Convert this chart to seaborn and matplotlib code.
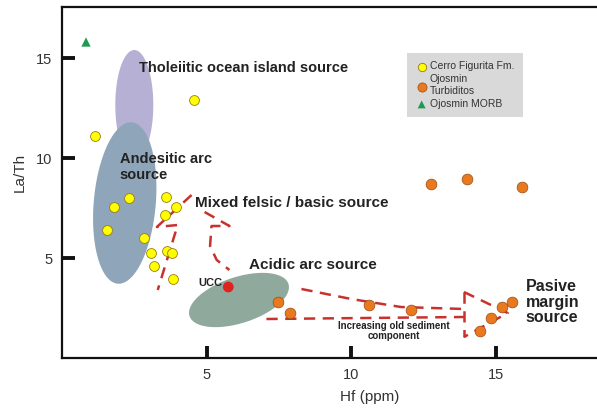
import numpy as np
import pandas as pd
import matplotlib
matplotlib.use("Agg")
import matplotlib.pyplot as plt
import seaborn as sns


# -----------------------------
# Data
# -----------------------------

cerro_hf = [4.55, 1.15, 2.3, 3.6, 1.8, 3.95, 3.55, 1.55, 2.83, 3.07, 3.62, 3.79, 3.17, 3.83]
cerro_lath = [12.9, 11.1, 8.0, 8.05, 7.55, 7.55, 7.15, 6.4, 6.0, 5.25, 5.35, 5.25, 4.6, 3.95]

ojosmin_hf = [12.76, 14.0, 15.9, 7.48, 7.9, 10.6, 12.07, 14.45, 14.83, 15.2, 15.55]
ojosmin_lath = [8.7, 8.95, 8.55, 2.8, 2.25, 2.65, 2.4, 1.35, 2.0, 2.55, 2.8]

morb_hf = [0.83]
morb_lath = [15.8]

ucc_hf = [5.75]
ucc_lath = [3.55]

# source fields: centre (Hf, La/Th), half-axes in screen px, tilt in degrees
field_names = ["Tholeiitic", "Andesitic", "Acidic"]
field_centre = [(2.5, 12.65), (2.17, 7.75), (6.12, 2.9)]
field_axes = [(19, 55), (31, 81), (52, 23)]
field_tilt = [0, -5, 18]
field_colors = ["#b5b0d4", "#8fa5b9", "#8fa99c"]

# dashed arrow outlines (Hf, La/Th)
arrow_paths = [
    [(4.48, 8.15), (3.28, 6.55), (4.0, 6.65), (3.31, 3.4)],
    [(4.93, 7.3), (5.79, 6.6), (5.17, 6.6), (5.12, 5.6), (5.35, 4.9), (5.79, 4.4)],
    [(8.28, 3.45), (10.0, 2.95), (11.72, 2.55), (13.9, 2.45)],
    [(7.07, 1.95), (10.5, 2.0), (13.9, 2.05)],
    [(13.9, 3.3), (13.9, 1.05)],
    [(13.9, 3.3), (15.41, 2.25), (13.9, 1.05)],
]

xmin, xmax = 0, 18.5
ymin, ymax = 0, 17.55


# -----------------------------
# Figure
# -----------------------------

sns.set_style("white")
plt.rcParams["font.family"] = ["Liberation Sans", "DejaVu Sans"]

fig = plt.figure(figsize=(5.97, 4.12), dpi=100)
ax = fig.add_axes([62 / 597, 54 / 412, 535 / 597, 351 / 412])
ax.set_xlim(xmin, xmax)
ax.set_ylim(ymin, ymax)

# px per data unit, used to draw the fields in screen shape
px_x = 535 / (xmax - xmin)
px_y = 351 / (ymax - ymin)

t = np.linspace(0, 2 * np.pi, 200)
for c, (a, b), ang, col in zip(field_centre, field_axes, field_tilt, field_colors):
    th = np.radians(ang)
    ex = a * np.cos(t)
    ey = b * np.sin(t)
    rx = ex * np.cos(th) - ey * np.sin(th)
    ry = ex * np.sin(th) + ey * np.cos(th)
    ax.fill(c[0] + rx / px_x, c[1] + ry / px_y, color=col, lw=0, zorder=1)

for path in arrow_paths:
    px, py = zip(*path)
    ax.plot(px, py, color="#c8322d", lw=1.8, ls=(0, (4.5, 3)), zorder=2)


# -----------------------------
# Points
# -----------------------------

cerro = pd.DataFrame({"Hf": cerro_hf, "LaTh": cerro_lath})
ojos = pd.DataFrame({"Hf": ojosmin_hf, "LaTh": ojosmin_lath})
morb = pd.DataFrame({"Hf": morb_hf, "LaTh": morb_lath})
ucc = pd.DataFrame({"Hf": ucc_hf, "LaTh": ucc_lath})

sns.scatterplot(data=cerro, x="Hf", y="LaTh", ax=ax, color="#ffff00", s=50,
                edgecolor="#9a7a10", linewidth=0.6, label="Cerro Figurita Fm.", zorder=4)
sns.scatterplot(data=ojos, x="Hf", y="LaTh", ax=ax, color="#e8791f", s=60,
                edgecolor="#9a4a10", linewidth=0.5, label="Ojosmin\nTurbiditos", zorder=4)
sns.scatterplot(data=morb, x="Hf", y="LaTh", ax=ax, color="#1f9a52", marker="^", s=45,
                edgecolor="none", label="Ojosmin MORB", zorder=4)
sns.scatterplot(data=ucc, x="Hf", y="LaTh", ax=ax, color="#e0231e", s=60,
                edgecolor="none", legend=False, zorder=4)


# -----------------------------
# Labels
# -----------------------------

txt = dict(color="#222222", fontweight="bold", zorder=5)
ax.text(2.66, 14.5, "Tholeiitic ocean island source", fontsize=10.5, va="center", **txt)
ax.text(2.0, 9.55, "Andesitic arc\nsource", fontsize=10.5, va="center", linespacing=1.1, **txt)
ax.text(4.6, 7.75, "Mixed felsic / basic source", fontsize=11, va="center", **txt)
ax.text(6.45, 4.65, "Acidic arc source", fontsize=11, va="center", **txt)
ax.text(4.7, 3.75, "UCC", fontsize=8, va="center", **txt)
ax.text(11.48, 1.35, "Increasing old sediment\ncomponent", fontsize=7, ha="center",
        va="center", linespacing=1.0, **txt)
ax.text(16.03, 2.8, "Pasive\nmargin\nsource", fontsize=11.5, va="center", linespacing=1.05, **txt)

ax.set_xlabel("Hf (ppm)", fontsize=11, color="#333333")
ax.set_ylabel("La/Th", fontsize=11, color="#333333")
ax.xaxis.set_label_coords(0.576, -0.09)
ax.yaxis.set_label_coords(-0.066, 0.53)

ax.set_xticks([5, 10, 15])
ax.set_yticks([5, 10, 15])
ax.tick_params(bottom=True, left=True, direction="in", length=9, width=2.8,
               color="#111111", labelsize=10.5, labelcolor="#333333", pad=7)

for side in ["left", "bottom", "top"]:
    ax.spines[side].set_linewidth(1.6)
    ax.spines[side].set_color("#111111")
ax.spines["right"].set_visible(False)

leg = ax.legend(loc="upper left", bbox_to_anchor=(0.645, 0.869), fontsize=7.5,
                frameon=True, fancybox=False, framealpha=1, facecolor="#d9d9d9",
                edgecolor="none", handletextpad=0.2, borderpad=0.8,
                labelspacing=0.3, handlelength=1.2, borderaxespad=0, markerscale=0.85)
for tx in leg.get_texts():
    tx.set_color("#333333")

fig.savefig("out.png", dpi=100)
